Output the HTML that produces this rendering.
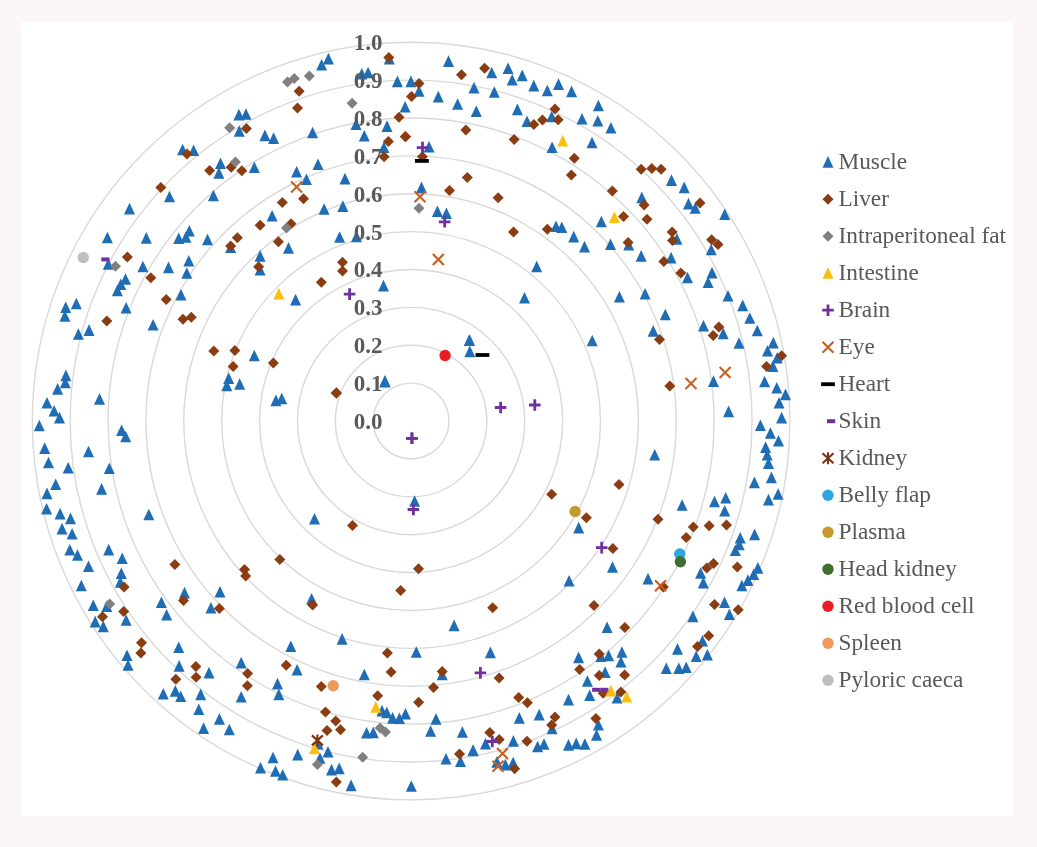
<!DOCTYPE html>
<html><head><meta charset="utf-8"><style>
html,body{margin:0;padding:0;background:#fdf6f6;}
svg{position:absolute;left:0;top:0;}
.ov{will-change:transform;}
</style></head><body>
<svg width="1037" height="847" viewBox="0 0 1037 847">
<rect x="0" y="0" width="1037" height="847" fill="#fdf6f6"/>
<rect x="21" y="22" width="992" height="794" fill="#ffffff"/>
<circle cx="411.1" cy="421.05" r="37.88" fill="none" stroke="#d9d9d9" stroke-width="1.4"/><circle cx="411.1" cy="421.05" r="75.76" fill="none" stroke="#d9d9d9" stroke-width="1.4"/><circle cx="411.1" cy="421.05" r="113.64" fill="none" stroke="#d9d9d9" stroke-width="1.4"/><circle cx="411.1" cy="421.05" r="151.52" fill="none" stroke="#d9d9d9" stroke-width="1.4"/><circle cx="411.1" cy="421.05" r="189.40" fill="none" stroke="#d9d9d9" stroke-width="1.4"/><circle cx="411.1" cy="421.05" r="227.28" fill="none" stroke="#d9d9d9" stroke-width="1.4"/><circle cx="411.1" cy="421.05" r="265.16" fill="none" stroke="#d9d9d9" stroke-width="1.4"/><circle cx="411.1" cy="421.05" r="303.04" fill="none" stroke="#d9d9d9" stroke-width="1.4"/><circle cx="411.1" cy="421.05" r="340.92" fill="none" stroke="#d9d9d9" stroke-width="1.4"/><circle cx="411.1" cy="421.05" r="378.80" fill="none" stroke="#d9d9d9" stroke-width="1.4"/>
<polygon points="182.6,143.7 188.1,155.3 177.1,155.3" fill="#1f6db4"/>
<polygon points="193.6,144.4 199.1,156.0 188.1,156.0" fill="#1f6db4"/>
<polygon points="328.4,52.8 333.9,64.4 322.9,64.4" fill="#1f6db4"/>
<polygon points="321.6,59.0 327.1,70.6 316.1,70.6" fill="#1f6db4"/>
<polygon points="361.8,67.9 367.3,79.5 356.3,79.5" fill="#1f6db4"/>
<polygon points="368.1,66.7 373.6,78.3 362.6,78.3" fill="#1f6db4"/>
<polygon points="397.4,75.6 402.9,87.2 391.9,87.2" fill="#1f6db4"/>
<polygon points="410.9,75.6 416.4,87.2 405.4,87.2" fill="#1f6db4"/>
<polygon points="405.1,101.0 410.6,112.6 399.6,112.6" fill="#1f6db4"/>
<polygon points="387.0,120.3 392.5,131.9 381.5,131.9" fill="#1f6db4"/>
<polygon points="356.0,118.4 361.5,130.0 350.5,130.0" fill="#1f6db4"/>
<polygon points="364.3,130.0 369.8,141.6 358.8,141.6" fill="#1f6db4"/>
<polygon points="383.9,141.5 389.4,153.1 378.4,153.1" fill="#1f6db4"/>
<polygon points="238.9,108.8 244.4,120.4 233.4,120.4" fill="#1f6db4"/>
<polygon points="246.0,108.2 251.5,119.8 240.5,119.8" fill="#1f6db4"/>
<polygon points="239.3,125.2 244.8,136.8 233.8,136.8" fill="#1f6db4"/>
<polygon points="264.9,129.6 270.4,141.2 259.4,141.2" fill="#1f6db4"/>
<polygon points="273.6,132.3 279.1,143.9 268.1,143.9" fill="#1f6db4"/>
<polygon points="312.6,126.7 318.1,138.3 307.1,138.3" fill="#1f6db4"/>
<polygon points="254.3,161.4 259.8,173.0 248.8,173.0" fill="#1f6db4"/>
<polygon points="296.6,166.0 302.1,177.6 291.1,177.6" fill="#1f6db4"/>
<polygon points="306.4,173.4 311.9,185.0 300.9,185.0" fill="#1f6db4"/>
<polygon points="318.0,158.5 323.5,170.1 312.5,170.1" fill="#1f6db4"/>
<polygon points="345.0,172.8 350.5,184.4 339.5,184.4" fill="#1f6db4"/>
<polygon points="389.3,52.8 394.8,64.4 383.8,64.4" fill="#1f6db4"/>
<polygon points="448.5,55.3 454.0,66.9 443.0,66.9" fill="#1f6db4"/>
<polygon points="491.7,66.7 497.2,78.3 486.2,78.3" fill="#1f6db4"/>
<polygon points="508.1,62.5 513.6,74.1 502.6,74.1" fill="#1f6db4"/>
<polygon points="522.2,69.6 527.7,81.2 516.7,81.2" fill="#1f6db4"/>
<polygon points="512.2,74.0 517.7,85.6 506.7,85.6" fill="#1f6db4"/>
<polygon points="474.0,81.8 479.5,93.4 468.5,93.4" fill="#1f6db4"/>
<polygon points="494.3,86.2 499.8,97.8 488.8,97.8" fill="#1f6db4"/>
<polygon points="438.3,90.8 443.8,102.4 432.8,102.4" fill="#1f6db4"/>
<polygon points="457.6,98.2 463.1,109.8 452.1,109.8" fill="#1f6db4"/>
<polygon points="476.3,105.3 481.8,116.9 470.8,116.9" fill="#1f6db4"/>
<polygon points="533.8,79.8 539.3,91.4 528.3,91.4" fill="#1f6db4"/>
<polygon points="547.3,84.7 552.8,96.3 541.8,96.3" fill="#1f6db4"/>
<polygon points="558.5,78.3 564.0,89.9 553.0,89.9" fill="#1f6db4"/>
<polygon points="571.6,85.6 577.1,97.2 566.1,97.2" fill="#1f6db4"/>
<polygon points="598.4,99.7 603.9,111.3 592.9,111.3" fill="#1f6db4"/>
<polygon points="517.4,103.6 522.9,115.2 511.9,115.2" fill="#1f6db4"/>
<polygon points="527.0,115.5 532.5,127.1 521.5,127.1" fill="#1f6db4"/>
<polygon points="551.7,110.7 557.2,122.3 546.2,122.3" fill="#1f6db4"/>
<polygon points="582.0,113.0 587.5,124.6 576.5,124.6" fill="#1f6db4"/>
<polygon points="597.8,114.9 603.3,126.5 592.3,126.5" fill="#1f6db4"/>
<polygon points="610.9,121.9 616.4,133.5 605.4,133.5" fill="#1f6db4"/>
<polygon points="552.1,141.5 557.6,153.1 546.6,153.1" fill="#1f6db4"/>
<polygon points="592.0,136.7 597.5,148.3 586.5,148.3" fill="#1f6db4"/>
<polygon points="419.0,85.2 424.5,96.8 413.5,96.8" fill="#1f6db4"/>
<polygon points="429.0,140.9 434.5,152.5 423.5,152.5" fill="#1f6db4"/>
<polygon points="671.5,174.3 677.0,185.9 666.0,185.9" fill="#1f6db4"/>
<polygon points="169.5,190.7 175.0,202.3 164.0,202.3" fill="#1f6db4"/>
<polygon points="213.4,189.7 218.9,201.3 207.9,201.3" fill="#1f6db4"/>
<polygon points="129.5,202.8 135.0,214.4 124.0,214.4" fill="#1f6db4"/>
<polygon points="107.4,231.7 112.9,243.3 101.9,243.3" fill="#1f6db4"/>
<polygon points="146.3,232.1 151.8,243.7 140.8,243.7" fill="#1f6db4"/>
<polygon points="178.7,232.5 184.2,244.1 173.2,244.1" fill="#1f6db4"/>
<polygon points="185.9,231.2 191.4,242.8 180.4,242.8" fill="#1f6db4"/>
<polygon points="189.3,225.0 194.8,236.6 183.8,236.6" fill="#1f6db4"/>
<polygon points="207.5,233.7 213.0,245.3 202.0,245.3" fill="#1f6db4"/>
<polygon points="108.3,258.2 113.8,269.8 102.8,269.8" fill="#1f6db4"/>
<polygon points="142.9,260.7 148.4,272.3 137.4,272.3" fill="#1f6db4"/>
<polygon points="168.5,261.6 174.0,273.2 163.0,273.2" fill="#1f6db4"/>
<polygon points="188.8,254.9 194.3,266.5 183.3,266.5" fill="#1f6db4"/>
<polygon points="186.8,267.2 192.3,278.8 181.3,278.8" fill="#1f6db4"/>
<polygon points="125.5,273.2 131.0,284.8 120.0,284.8" fill="#1f6db4"/>
<polygon points="120.7,278.4 126.2,290.0 115.2,290.0" fill="#1f6db4"/>
<polygon points="117.4,284.6 122.9,296.2 111.9,296.2" fill="#1f6db4"/>
<polygon points="181.0,289.0 186.5,300.6 175.5,300.6" fill="#1f6db4"/>
<polygon points="126.1,301.9 131.6,313.5 120.6,313.5" fill="#1f6db4"/>
<polygon points="76.3,297.7 81.8,309.3 70.8,309.3" fill="#1f6db4"/>
<polygon points="65.7,301.5 71.2,313.1 60.2,313.1" fill="#1f6db4"/>
<polygon points="64.9,310.2 70.4,321.8 59.4,321.8" fill="#1f6db4"/>
<polygon points="153.1,318.9 158.6,330.5 147.6,330.5" fill="#1f6db4"/>
<polygon points="78.4,328.2 83.9,339.8 72.9,339.8" fill="#1f6db4"/>
<polygon points="89.0,324.3 94.5,335.9 83.5,335.9" fill="#1f6db4"/>
<polygon points="324.1,203.2 329.6,214.8 318.6,214.8" fill="#1f6db4"/>
<polygon points="342.9,200.3 348.4,211.9 337.4,211.9" fill="#1f6db4"/>
<polygon points="272.1,209.9 277.6,221.5 266.6,221.5" fill="#1f6db4"/>
<polygon points="230.6,241.4 236.1,253.0 225.1,253.0" fill="#1f6db4"/>
<polygon points="288.5,242.1 294.0,253.7 283.0,253.7" fill="#1f6db4"/>
<polygon points="339.6,231.2 345.1,242.8 334.1,242.8" fill="#1f6db4"/>
<polygon points="356.5,230.6 362.0,242.2 351.0,242.2" fill="#1f6db4"/>
<polygon points="260.1,250.1 265.6,261.7 254.6,261.7" fill="#1f6db4"/>
<polygon points="260.1,263.9 265.6,275.5 254.6,275.5" fill="#1f6db4"/>
<polygon points="383.5,279.8 389.0,291.4 378.0,291.4" fill="#1f6db4"/>
<polygon points="295.6,293.8 301.1,305.4 290.1,305.4" fill="#1f6db4"/>
<polygon points="421.5,181.6 427.0,193.2 416.0,193.2" fill="#1f6db4"/>
<polygon points="437.4,205.5 442.9,217.1 431.9,217.1" fill="#1f6db4"/>
<polygon points="446.4,207.4 451.9,219.0 440.9,219.0" fill="#1f6db4"/>
<polygon points="556.0,220.5 561.5,232.1 550.5,232.1" fill="#1f6db4"/>
<polygon points="561.8,221.5 567.3,233.1 556.3,233.1" fill="#1f6db4"/>
<polygon points="573.7,230.8 579.2,242.4 568.2,242.4" fill="#1f6db4"/>
<polygon points="584.5,240.8 590.0,252.4 579.0,252.4" fill="#1f6db4"/>
<polygon points="601.3,215.7 606.8,227.3 595.8,227.3" fill="#1f6db4"/>
<polygon points="610.5,238.5 616.0,250.1 605.0,250.1" fill="#1f6db4"/>
<polygon points="536.7,260.7 542.2,272.3 531.2,272.3" fill="#1f6db4"/>
<polygon points="524.5,291.9 530.0,303.5 519.0,303.5" fill="#1f6db4"/>
<polygon points="469.6,334.3 475.1,345.9 464.1,345.9" fill="#1f6db4"/>
<polygon points="592.2,334.7 597.7,346.3 586.7,346.3" fill="#1f6db4"/>
<polygon points="684.2,181.6 689.7,193.2 678.7,193.2" fill="#1f6db4"/>
<polygon points="641.8,191.6 647.3,203.2 636.3,203.2" fill="#1f6db4"/>
<polygon points="688.5,197.8 694.0,209.4 683.0,209.4" fill="#1f6db4"/>
<polygon points="695.2,202.2 700.7,213.8 689.7,213.8" fill="#1f6db4"/>
<polygon points="724.7,208.4 730.2,220.0 719.2,220.0" fill="#1f6db4"/>
<polygon points="676.9,233.1 682.4,244.7 671.4,244.7" fill="#1f6db4"/>
<polygon points="628.7,238.9 634.2,250.5 623.2,250.5" fill="#1f6db4"/>
<polygon points="711.2,243.7 716.7,255.3 705.7,255.3" fill="#1f6db4"/>
<polygon points="641.2,250.1 646.7,261.7 635.7,261.7" fill="#1f6db4"/>
<polygon points="671.1,251.8 676.6,263.4 665.6,263.4" fill="#1f6db4"/>
<polygon points="687.5,271.7 693.0,283.3 682.0,283.3" fill="#1f6db4"/>
<polygon points="712.0,266.8 717.5,278.4 706.5,278.4" fill="#1f6db4"/>
<polygon points="708.1,276.5 713.6,288.1 702.6,288.1" fill="#1f6db4"/>
<polygon points="645.1,288.0 650.6,299.6 639.6,299.6" fill="#1f6db4"/>
<polygon points="619.4,290.9 624.9,302.5 613.9,302.5" fill="#1f6db4"/>
<polygon points="728.0,290.0 733.5,301.6 722.5,301.6" fill="#1f6db4"/>
<polygon points="742.7,299.6 748.2,311.2 737.2,311.2" fill="#1f6db4"/>
<polygon points="749.8,312.2 755.3,323.8 744.3,323.8" fill="#1f6db4"/>
<polygon points="665.3,308.7 670.8,320.3 659.8,320.3" fill="#1f6db4"/>
<polygon points="653.2,325.1 658.7,336.7 647.7,336.7" fill="#1f6db4"/>
<polygon points="703.5,319.9 709.0,331.5 698.0,331.5" fill="#1f6db4"/>
<polygon points="723.2,327.6 728.7,339.2 717.7,339.2" fill="#1f6db4"/>
<polygon points="757.3,324.7 762.8,336.3 751.8,336.3" fill="#1f6db4"/>
<polygon points="739.0,337.2 744.5,348.8 733.5,348.8" fill="#1f6db4"/>
<polygon points="773.3,336.8 778.8,348.4 767.8,348.4" fill="#1f6db4"/>
<polygon points="65.9,369.6 71.4,381.2 60.4,381.2" fill="#1f6db4"/>
<polygon points="65.3,376.7 70.8,388.3 59.8,388.3" fill="#1f6db4"/>
<polygon points="57.6,383.1 63.1,394.7 52.1,394.7" fill="#1f6db4"/>
<polygon points="99.5,393.1 105.0,404.7 94.0,404.7" fill="#1f6db4"/>
<polygon points="47.0,396.9 52.5,408.5 41.5,408.5" fill="#1f6db4"/>
<polygon points="54.1,405.0 59.6,416.6 48.6,416.6" fill="#1f6db4"/>
<polygon points="59.5,411.8 65.0,423.4 54.0,423.4" fill="#1f6db4"/>
<polygon points="39.3,419.7 44.8,431.3 33.8,431.3" fill="#1f6db4"/>
<polygon points="121.6,424.5 127.1,436.1 116.1,436.1" fill="#1f6db4"/>
<polygon points="125.7,430.7 131.2,442.3 120.2,442.3" fill="#1f6db4"/>
<polygon points="44.7,442.3 50.2,453.9 39.2,453.9" fill="#1f6db4"/>
<polygon points="88.5,445.7 94.0,457.3 83.0,457.3" fill="#1f6db4"/>
<polygon points="48.5,456.7 54.0,468.3 43.0,468.3" fill="#1f6db4"/>
<polygon points="68.2,461.9 73.7,473.5 62.7,473.5" fill="#1f6db4"/>
<polygon points="109.3,462.5 114.8,474.1 103.8,474.1" fill="#1f6db4"/>
<polygon points="55.7,478.5 61.2,490.1 50.2,490.1" fill="#1f6db4"/>
<polygon points="47.0,487.6 52.5,499.2 41.5,499.2" fill="#1f6db4"/>
<polygon points="101.6,483.1 107.1,494.7 96.1,494.7" fill="#1f6db4"/>
<polygon points="254.3,349.7 259.8,361.3 248.8,361.3" fill="#1f6db4"/>
<polygon points="228.7,372.4 234.2,384.0 223.2,384.0" fill="#1f6db4"/>
<polygon points="226.8,379.6 232.3,391.2 221.3,391.2" fill="#1f6db4"/>
<polygon points="239.7,378.2 245.2,389.8 234.2,389.8" fill="#1f6db4"/>
<polygon points="275.9,394.6 281.4,406.2 270.4,406.2" fill="#1f6db4"/>
<polygon points="281.7,392.7 287.2,404.3 276.2,404.3" fill="#1f6db4"/>
<polygon points="384.9,375.1 390.4,386.7 379.4,386.7" fill="#1f6db4"/>
<polygon points="469.2,334.4 474.7,346.0 463.7,346.0" fill="#1f6db4"/>
<polygon points="469.8,345.6 475.3,357.2 464.3,357.2" fill="#1f6db4"/>
<polygon points="385.0,375.9 390.5,387.5 379.5,387.5" fill="#1f6db4"/>
<polygon points="767.5,344.9 773.0,356.5 762.0,356.5" fill="#1f6db4"/>
<polygon points="777.2,352.0 782.7,363.6 771.7,363.6" fill="#1f6db4"/>
<polygon points="772.9,360.3 778.4,371.9 767.4,371.9" fill="#1f6db4"/>
<polygon points="713.5,375.3 719.0,386.9 708.0,386.9" fill="#1f6db4"/>
<polygon points="764.6,375.7 770.1,387.3 759.1,387.3" fill="#1f6db4"/>
<polygon points="776.8,381.9 782.3,393.5 771.3,393.5" fill="#1f6db4"/>
<polygon points="785.5,388.6 791.0,400.2 780.0,400.2" fill="#1f6db4"/>
<polygon points="779.1,396.9 784.6,408.5 773.6,408.5" fill="#1f6db4"/>
<polygon points="728.6,405.6 734.1,417.2 723.1,417.2" fill="#1f6db4"/>
<polygon points="781.6,411.8 787.1,423.4 776.1,423.4" fill="#1f6db4"/>
<polygon points="760.4,419.5 765.9,431.1 754.9,431.1" fill="#1f6db4"/>
<polygon points="770.4,427.2 775.9,438.8 764.9,438.8" fill="#1f6db4"/>
<polygon points="778.5,434.9 784.0,446.5 773.0,446.5" fill="#1f6db4"/>
<polygon points="765.6,441.3 771.1,452.9 760.1,452.9" fill="#1f6db4"/>
<polygon points="767.2,449.0 772.7,460.6 761.7,460.6" fill="#1f6db4"/>
<polygon points="768.5,457.3 774.0,468.9 763.0,468.9" fill="#1f6db4"/>
<polygon points="654.7,449.0 660.2,460.6 649.2,460.6" fill="#1f6db4"/>
<polygon points="771.4,471.6 776.9,483.2 765.9,483.2" fill="#1f6db4"/>
<polygon points="754.4,476.6 759.9,488.2 748.9,488.2" fill="#1f6db4"/>
<polygon points="778.1,488.2 783.6,499.8 772.6,499.8" fill="#1f6db4"/>
<polygon points="768.5,493.8 774.0,505.4 763.0,505.4" fill="#1f6db4"/>
<polygon points="714.5,495.7 720.0,507.3 709.0,507.3" fill="#1f6db4"/>
<polygon points="725.7,492.0 731.2,503.6 720.2,503.6" fill="#1f6db4"/>
<polygon points="682.1,499.2 687.6,510.8 676.6,510.8" fill="#1f6db4"/>
<polygon points="46.6,502.9 52.1,514.5 41.1,514.5" fill="#1f6db4"/>
<polygon points="60.1,507.8 65.6,519.4 54.6,519.4" fill="#1f6db4"/>
<polygon points="70.5,512.6 76.0,524.2 65.0,524.2" fill="#1f6db4"/>
<polygon points="62.0,522.8 67.5,534.4 56.5,534.4" fill="#1f6db4"/>
<polygon points="72.1,528.0 77.6,539.6 66.6,539.6" fill="#1f6db4"/>
<polygon points="148.8,508.7 154.3,520.3 143.3,520.3" fill="#1f6db4"/>
<polygon points="69.8,544.0 75.3,555.6 64.3,555.6" fill="#1f6db4"/>
<polygon points="77.5,549.2 83.0,560.8 72.0,560.8" fill="#1f6db4"/>
<polygon points="88.5,560.4 94.0,572.0 83.0,572.0" fill="#1f6db4"/>
<polygon points="108.7,543.8 114.2,555.4 103.2,555.4" fill="#1f6db4"/>
<polygon points="122.2,552.5 127.7,564.1 116.7,564.1" fill="#1f6db4"/>
<polygon points="121.3,567.5 126.8,579.1 115.8,579.1" fill="#1f6db4"/>
<polygon points="120.3,576.2 125.8,587.8 114.8,587.8" fill="#1f6db4"/>
<polygon points="81.3,579.7 86.8,591.3 75.8,591.3" fill="#1f6db4"/>
<polygon points="93.3,599.4 98.8,611.0 87.8,611.0" fill="#1f6db4"/>
<polygon points="106.8,600.3 112.3,611.9 101.3,611.9" fill="#1f6db4"/>
<polygon points="95.2,615.8 100.7,627.4 89.7,627.4" fill="#1f6db4"/>
<polygon points="103.3,620.6 108.8,632.2 97.8,632.2" fill="#1f6db4"/>
<polygon points="126.1,614.2 131.6,625.8 120.6,625.8" fill="#1f6db4"/>
<polygon points="184.5,586.8 190.0,598.4 179.0,598.4" fill="#1f6db4"/>
<polygon points="161.4,596.5 166.9,608.1 155.9,608.1" fill="#1f6db4"/>
<polygon points="166.6,609.0 172.1,620.6 161.1,620.6" fill="#1f6db4"/>
<polygon points="210.9,601.9 216.4,613.5 205.4,613.5" fill="#1f6db4"/>
<polygon points="127.0,649.5 132.5,661.1 121.5,661.1" fill="#1f6db4"/>
<polygon points="128.0,659.2 133.5,670.8 122.5,670.8" fill="#1f6db4"/>
<polygon points="178.7,641.4 184.2,653.0 173.2,653.0" fill="#1f6db4"/>
<polygon points="179.1,660.1 184.6,671.7 173.6,671.7" fill="#1f6db4"/>
<polygon points="314.5,513.0 320.0,524.6 309.0,524.6" fill="#1f6db4"/>
<polygon points="220.0,585.9 225.5,597.5 214.5,597.5" fill="#1f6db4"/>
<polygon points="311.6,593.0 317.1,604.6 306.1,604.6" fill="#1f6db4"/>
<polygon points="342.1,633.1 347.6,644.7 336.6,644.7" fill="#1f6db4"/>
<polygon points="290.8,640.4 296.3,652.0 285.3,652.0" fill="#1f6db4"/>
<polygon points="416.3,646.2 421.8,657.8 410.8,657.8" fill="#1f6db4"/>
<polygon points="241.2,656.8 246.7,668.4 235.7,668.4" fill="#1f6db4"/>
<polygon points="578.7,521.8 584.2,533.4 573.2,533.4" fill="#1f6db4"/>
<polygon points="612.5,561.2 618.0,572.8 607.0,572.8" fill="#1f6db4"/>
<polygon points="569.1,574.9 574.6,586.5 563.6,586.5" fill="#1f6db4"/>
<polygon points="454.1,619.6 459.6,631.2 448.6,631.2" fill="#1f6db4"/>
<polygon points="607.1,621.5 612.6,633.1 601.6,633.1" fill="#1f6db4"/>
<polygon points="490.4,646.6 495.9,658.2 484.9,658.2" fill="#1f6db4"/>
<polygon points="724.7,504.9 730.2,516.5 719.2,516.5" fill="#1f6db4"/>
<polygon points="740.2,531.9 745.7,543.5 734.7,543.5" fill="#1f6db4"/>
<polygon points="739.2,538.6 744.7,550.2 733.7,550.2" fill="#1f6db4"/>
<polygon points="735.3,544.4 740.8,556.0 729.8,556.0" fill="#1f6db4"/>
<polygon points="754.6,528.6 760.1,540.2 749.1,540.2" fill="#1f6db4"/>
<polygon points="700.6,567.2 706.1,578.8 695.1,578.8" fill="#1f6db4"/>
<polygon points="703.3,576.8 708.8,588.4 697.8,588.4" fill="#1f6db4"/>
<polygon points="757.9,562.1 763.4,573.7 752.4,573.7" fill="#1f6db4"/>
<polygon points="753.7,568.5 759.2,580.1 748.2,580.1" fill="#1f6db4"/>
<polygon points="747.9,574.3 753.4,585.9 742.4,585.9" fill="#1f6db4"/>
<polygon points="741.9,579.7 747.4,591.3 736.4,591.3" fill="#1f6db4"/>
<polygon points="648.0,572.8 653.5,584.4 642.5,584.4" fill="#1f6db4"/>
<polygon points="724.5,596.5 730.0,608.1 719.0,608.1" fill="#1f6db4"/>
<polygon points="729.4,608.4 734.9,620.0 723.9,620.0" fill="#1f6db4"/>
<polygon points="692.9,610.6 698.4,622.2 687.4,622.2" fill="#1f6db4"/>
<polygon points="702.5,635.0 708.0,646.6 697.0,646.6" fill="#1f6db4"/>
<polygon points="677.5,643.1 683.0,654.7 672.0,654.7" fill="#1f6db4"/>
<polygon points="696.2,650.5 701.7,662.1 690.7,662.1" fill="#1f6db4"/>
<polygon points="707.4,648.9 712.9,660.5 701.9,660.5" fill="#1f6db4"/>
<polygon points="209.0,666.8 214.5,678.4 203.5,678.4" fill="#1f6db4"/>
<polygon points="163.3,688.0 168.8,699.6 157.8,699.6" fill="#1f6db4"/>
<polygon points="175.3,685.1 180.8,696.7 169.8,696.7" fill="#1f6db4"/>
<polygon points="180.7,690.5 186.2,702.1 175.2,702.1" fill="#1f6db4"/>
<polygon points="200.7,688.6 206.2,700.2 195.2,700.2" fill="#1f6db4"/>
<polygon points="198.8,703.4 204.3,715.0 193.3,715.0" fill="#1f6db4"/>
<polygon points="203.6,722.3 209.1,733.9 198.1,733.9" fill="#1f6db4"/>
<polygon points="297.1,663.9 302.6,675.5 291.6,675.5" fill="#1f6db4"/>
<polygon points="364.3,668.7 369.8,680.3 358.8,680.3" fill="#1f6db4"/>
<polygon points="277.5,677.8 283.0,689.4 272.0,689.4" fill="#1f6db4"/>
<polygon points="278.8,688.6 284.3,700.2 273.3,700.2" fill="#1f6db4"/>
<polygon points="241.2,690.9 246.7,702.5 235.7,702.5" fill="#1f6db4"/>
<polygon points="382.0,704.8 387.5,716.4 376.5,716.4" fill="#1f6db4"/>
<polygon points="386.8,706.7 392.3,718.3 381.3,718.3" fill="#1f6db4"/>
<polygon points="392.6,712.1 398.1,723.7 387.1,723.7" fill="#1f6db4"/>
<polygon points="399.4,712.5 404.9,724.1 393.9,724.1" fill="#1f6db4"/>
<polygon points="405.5,707.9 411.0,719.5 400.0,719.5" fill="#1f6db4"/>
<polygon points="219.4,713.1 224.9,724.7 213.9,724.7" fill="#1f6db4"/>
<polygon points="229.3,723.7 234.8,735.3 223.8,735.3" fill="#1f6db4"/>
<polygon points="366.6,727.0 372.1,738.6 361.1,738.6" fill="#1f6db4"/>
<polygon points="373.3,726.6 378.8,738.2 367.8,738.2" fill="#1f6db4"/>
<polygon points="328.0,745.9 333.5,757.5 322.5,757.5" fill="#1f6db4"/>
<polygon points="297.7,748.8 303.2,760.4 292.2,760.4" fill="#1f6db4"/>
<polygon points="273.0,751.7 278.5,763.3 267.5,763.3" fill="#1f6db4"/>
<polygon points="260.5,761.9 266.0,773.5 255.0,773.5" fill="#1f6db4"/>
<polygon points="275.5,765.2 281.0,776.8 270.0,776.8" fill="#1f6db4"/>
<polygon points="282.7,769.0 288.2,780.6 277.2,780.6" fill="#1f6db4"/>
<polygon points="319.9,752.2 325.4,763.8 314.4,763.8" fill="#1f6db4"/>
<polygon points="331.5,763.8 337.0,775.4 326.0,775.4" fill="#1f6db4"/>
<polygon points="339.2,762.6 344.7,774.2 333.7,774.2" fill="#1f6db4"/>
<polygon points="351.1,779.6 356.6,791.2 345.6,791.2" fill="#1f6db4"/>
<polygon points="411.3,780.2 416.8,791.8 405.8,791.8" fill="#1f6db4"/>
<polygon points="442.2,668.7 447.7,680.3 436.7,680.3" fill="#1f6db4"/>
<polygon points="568.5,693.8 574.0,705.4 563.0,705.4" fill="#1f6db4"/>
<polygon points="436.0,713.1 441.5,724.7 430.5,724.7" fill="#1f6db4"/>
<polygon points="430.6,725.2 436.1,736.8 425.1,736.8" fill="#1f6db4"/>
<polygon points="462.4,726.2 467.9,737.8 456.9,737.8" fill="#1f6db4"/>
<polygon points="519.3,712.1 524.8,723.7 513.8,723.7" fill="#1f6db4"/>
<polygon points="539.2,708.8 544.7,720.4 533.7,720.4" fill="#1f6db4"/>
<polygon points="552.1,722.7 557.6,734.3 546.6,734.3" fill="#1f6db4"/>
<polygon points="598.4,718.9 603.9,730.5 592.9,730.5" fill="#1f6db4"/>
<polygon points="596.5,729.1 602.0,740.7 591.0,740.7" fill="#1f6db4"/>
<polygon points="537.6,740.7 543.1,752.3 532.1,752.3" fill="#1f6db4"/>
<polygon points="544.0,738.2 549.5,749.8 538.5,749.8" fill="#1f6db4"/>
<polygon points="568.5,739.1 574.0,750.7 563.0,750.7" fill="#1f6db4"/>
<polygon points="576.2,737.6 581.7,749.2 570.7,749.2" fill="#1f6db4"/>
<polygon points="584.9,738.2 590.4,749.8 579.4,749.8" fill="#1f6db4"/>
<polygon points="473.0,744.5 478.5,756.1 467.5,756.1" fill="#1f6db4"/>
<polygon points="460.5,755.5 466.0,767.1 455.0,767.1" fill="#1f6db4"/>
<polygon points="446.0,753.0 451.5,764.6 440.5,764.6" fill="#1f6db4"/>
<polygon points="414.6,495.2 420.1,506.8 409.1,506.8" fill="#1f6db4"/>
<polygon points="578.6,651.6 584.1,663.2 573.1,663.2" fill="#1f6db4"/>
<polygon points="600.9,650.5 606.4,662.1 595.4,662.1" fill="#1f6db4"/>
<polygon points="608.6,649.7 614.1,661.3 603.1,661.3" fill="#1f6db4"/>
<polygon points="621.9,646.2 627.4,657.8 616.4,657.8" fill="#1f6db4"/>
<polygon points="620.9,655.9 626.4,667.5 615.4,667.5" fill="#1f6db4"/>
<polygon points="605.1,666.3 610.6,677.9 599.6,677.9" fill="#1f6db4"/>
<polygon points="587.4,675.2 592.9,686.8 581.9,686.8" fill="#1f6db4"/>
<polygon points="589.7,689.5 595.2,701.1 584.2,701.1" fill="#1f6db4"/>
<polygon points="617.1,691.8 622.6,703.4 611.6,703.4" fill="#1f6db4"/>
<polygon points="485.5,737.8 491.0,749.4 480.0,749.4" fill="#1f6db4"/>
<polygon points="473.2,744.6 478.7,756.2 467.7,756.2" fill="#1f6db4"/>
<polygon points="513.4,735.1 518.9,746.7 507.9,746.7" fill="#1f6db4"/>
<polygon points="496.9,756.1 502.4,767.7 491.4,767.7" fill="#1f6db4"/>
<polygon points="505.4,758.8 510.9,770.4 499.9,770.4" fill="#1f6db4"/>
<polygon points="513.1,756.7 518.6,768.3 507.6,768.3" fill="#1f6db4"/>
<polygon points="666.3,662.4 671.8,674.0 660.8,674.0" fill="#1f6db4"/>
<polygon points="678.8,662.4 684.3,674.0 673.3,674.0" fill="#1f6db4"/>
<polygon points="686.2,661.4 691.7,673.0 680.7,673.0" fill="#1f6db4"/>
<polygon points="220.5,157.5 226.0,169.1 215.0,169.1" fill="#1f6db4"/>
<polygon points="218.9,167.2 224.4,178.8 213.4,178.8" fill="#1f6db4"/>
<polygon points="318.0,737.9 323.5,749.5 312.5,749.5" fill="#1f6db4"/>
<polygon points="187.0,148.5 192.5,154.0 187.0,159.5 181.5,154.0" fill="#8a3c12"/>
<polygon points="209.6,164.9 215.1,170.4 209.6,175.9 204.1,170.4" fill="#8a3c12"/>
<polygon points="411.5,91.0 417.0,96.5 411.5,102.0 406.0,96.5" fill="#8a3c12"/>
<polygon points="399.0,111.7 404.5,117.2 399.0,122.7 393.5,117.2" fill="#8a3c12"/>
<polygon points="405.5,131.2 411.0,136.7 405.5,142.2 400.0,136.7" fill="#8a3c12"/>
<polygon points="388.4,136.0 393.9,141.5 388.4,147.0 382.9,141.5" fill="#8a3c12"/>
<polygon points="384.1,151.2 389.6,156.7 384.1,162.2 378.6,156.7" fill="#8a3c12"/>
<polygon points="246.4,122.9 251.9,128.4 246.4,133.9 240.9,128.4" fill="#8a3c12"/>
<polygon points="231.2,161.8 236.7,167.3 231.2,172.8 225.7,167.3" fill="#8a3c12"/>
<polygon points="241.8,165.3 247.3,170.8 241.8,176.3 236.3,170.8" fill="#8a3c12"/>
<polygon points="299.1,85.8 304.6,91.3 299.1,96.8 293.6,91.3" fill="#8a3c12"/>
<polygon points="297.5,102.6 303.0,108.1 297.5,113.6 292.0,108.1" fill="#8a3c12"/>
<polygon points="388.8,52.1 394.3,57.6 388.8,63.1 383.3,57.6" fill="#8a3c12"/>
<polygon points="461.5,69.2 467.0,74.7 461.5,80.2 456.0,74.7" fill="#8a3c12"/>
<polygon points="484.6,62.7 490.1,68.2 484.6,73.7 479.1,68.2" fill="#8a3c12"/>
<polygon points="419.0,78.1 424.5,83.6 419.0,89.1 413.5,83.6" fill="#8a3c12"/>
<polygon points="555.0,103.6 560.5,109.1 555.0,114.6 549.5,109.1" fill="#8a3c12"/>
<polygon points="542.5,114.6 548.0,120.1 542.5,125.6 537.0,120.1" fill="#8a3c12"/>
<polygon points="533.8,119.0 539.3,124.5 533.8,130.0 528.3,124.5" fill="#8a3c12"/>
<polygon points="558.1,114.2 563.6,119.7 558.1,125.2 552.6,119.7" fill="#8a3c12"/>
<polygon points="465.9,124.4 471.4,129.9 465.9,135.4 460.4,129.9" fill="#8a3c12"/>
<polygon points="514.1,133.9 519.6,139.4 514.1,144.9 508.6,139.4" fill="#8a3c12"/>
<polygon points="574.3,152.8 579.8,158.3 574.3,163.8 568.8,158.3" fill="#8a3c12"/>
<polygon points="571.4,169.5 576.9,175.0 571.4,180.5 565.9,175.0" fill="#8a3c12"/>
<polygon points="467.3,172.0 472.8,177.5 467.3,183.0 461.8,177.5" fill="#8a3c12"/>
<polygon points="422.4,151.3 427.9,156.8 422.4,162.3 416.9,156.8" fill="#8a3c12"/>
<polygon points="405.4,131.1 410.9,136.6 405.4,142.1 399.9,136.6" fill="#8a3c12"/>
<polygon points="641.2,163.7 646.7,169.2 641.2,174.7 635.7,169.2" fill="#8a3c12"/>
<polygon points="651.8,163.0 657.3,168.5 651.8,174.0 646.3,168.5" fill="#8a3c12"/>
<polygon points="661.1,163.7 666.6,169.2 661.1,174.7 655.6,169.2" fill="#8a3c12"/>
<polygon points="160.8,182.0 166.3,187.5 160.8,193.0 155.3,187.5" fill="#8a3c12"/>
<polygon points="127.4,251.6 132.9,257.1 127.4,262.6 121.9,257.1" fill="#8a3c12"/>
<polygon points="150.8,272.3 156.3,277.8 150.8,283.3 145.3,277.8" fill="#8a3c12"/>
<polygon points="166.2,293.9 171.7,299.4 166.2,304.9 160.7,299.4" fill="#8a3c12"/>
<polygon points="106.8,315.6 112.3,321.1 106.8,326.6 101.3,321.1" fill="#8a3c12"/>
<polygon points="183.0,313.7 188.5,319.2 183.0,324.7 177.5,319.2" fill="#8a3c12"/>
<polygon points="191.3,311.8 196.8,317.3 191.3,322.8 185.8,317.3" fill="#8a3c12"/>
<polygon points="303.5,193.2 309.0,198.7 303.5,204.2 298.0,198.7" fill="#8a3c12"/>
<polygon points="282.3,197.0 287.8,202.5 282.3,208.0 276.8,202.5" fill="#8a3c12"/>
<polygon points="260.1,219.8 265.6,225.3 260.1,230.8 254.6,225.3" fill="#8a3c12"/>
<polygon points="291.0,218.3 296.5,223.8 291.0,229.3 285.5,223.8" fill="#8a3c12"/>
<polygon points="237.4,232.3 242.9,237.8 237.4,243.3 231.9,237.8" fill="#8a3c12"/>
<polygon points="230.6,240.4 236.1,245.9 230.6,251.4 225.1,245.9" fill="#8a3c12"/>
<polygon points="278.4,236.2 283.9,241.7 278.4,247.2 272.9,241.7" fill="#8a3c12"/>
<polygon points="258.6,261.3 264.1,266.8 258.6,272.3 253.1,266.8" fill="#8a3c12"/>
<polygon points="342.5,256.8 348.0,262.3 342.5,267.8 337.0,262.3" fill="#8a3c12"/>
<polygon points="342.5,265.5 348.0,271.0 342.5,276.5 337.0,271.0" fill="#8a3c12"/>
<polygon points="321.3,276.7 326.8,282.2 321.3,287.7 315.8,282.2" fill="#8a3c12"/>
<polygon points="449.5,185.1 455.0,190.6 449.5,196.1 444.0,190.6" fill="#8a3c12"/>
<polygon points="612.3,185.5 617.8,191.0 612.3,196.5 606.8,191.0" fill="#8a3c12"/>
<polygon points="498.1,192.2 503.6,197.7 498.1,203.2 492.6,197.7" fill="#8a3c12"/>
<polygon points="513.5,226.5 519.0,232.0 513.5,237.5 508.0,232.0" fill="#8a3c12"/>
<polygon points="547.3,223.7 552.8,229.2 547.3,234.7 541.8,229.2" fill="#8a3c12"/>
<polygon points="644.1,199.5 649.6,205.0 644.1,210.5 638.6,205.0" fill="#8a3c12"/>
<polygon points="623.5,210.9 629.0,216.4 623.5,221.9 618.0,216.4" fill="#8a3c12"/>
<polygon points="647.0,213.8 652.5,219.3 647.0,224.8 641.5,219.3" fill="#8a3c12"/>
<polygon points="700.0,197.6 705.5,203.1 700.0,208.6 694.5,203.1" fill="#8a3c12"/>
<polygon points="672.1,226.5 677.6,232.0 672.1,237.5 666.6,232.0" fill="#8a3c12"/>
<polygon points="672.5,235.0 678.0,240.5 672.5,246.0 667.0,240.5" fill="#8a3c12"/>
<polygon points="628.1,237.0 633.6,242.5 628.1,248.0 622.6,242.5" fill="#8a3c12"/>
<polygon points="711.6,234.3 717.1,239.8 711.6,245.3 706.1,239.8" fill="#8a3c12"/>
<polygon points="718.0,239.1 723.5,244.6 718.0,250.1 712.5,244.6" fill="#8a3c12"/>
<polygon points="663.8,255.9 669.3,261.4 663.8,266.9 658.3,261.4" fill="#8a3c12"/>
<polygon points="680.8,267.4 686.3,272.9 680.8,278.4 675.3,272.9" fill="#8a3c12"/>
<polygon points="659.5,334.0 665.0,339.5 659.5,345.0 654.0,339.5" fill="#8a3c12"/>
<polygon points="718.9,321.4 724.4,326.9 718.9,332.4 713.4,326.9" fill="#8a3c12"/>
<polygon points="713.2,330.1 718.7,335.6 713.2,341.1 707.7,335.6" fill="#8a3c12"/>
<polygon points="213.8,345.5 219.3,351.0 213.8,356.5 208.3,351.0" fill="#8a3c12"/>
<polygon points="234.9,345.1 240.4,350.6 234.9,356.1 229.4,350.6" fill="#8a3c12"/>
<polygon points="233.1,360.9 238.6,366.4 233.1,371.9 227.6,366.4" fill="#8a3c12"/>
<polygon points="273.4,357.4 278.9,362.9 273.4,368.4 267.9,362.9" fill="#8a3c12"/>
<polygon points="336.3,387.3 341.8,392.8 336.3,398.3 330.8,392.8" fill="#8a3c12"/>
<polygon points="336.4,387.7 341.9,393.2 336.4,398.7 330.9,393.2" fill="#8a3c12"/>
<polygon points="551.7,488.8 557.2,494.3 551.7,499.8 546.2,494.3" fill="#8a3c12"/>
<polygon points="781.6,350.3 787.1,355.8 781.6,361.3 776.1,355.8" fill="#8a3c12"/>
<polygon points="766.6,360.9 772.1,366.4 766.6,371.9 761.1,366.4" fill="#8a3c12"/>
<polygon points="669.8,380.6 675.3,386.1 669.8,391.6 664.3,386.1" fill="#8a3c12"/>
<polygon points="619.0,478.9 624.5,484.4 619.0,489.9 613.5,484.4" fill="#8a3c12"/>
<polygon points="124.1,581.6 129.6,587.1 124.1,592.6 118.6,587.1" fill="#8a3c12"/>
<polygon points="102.5,611.2 108.0,616.7 102.5,622.2 97.0,616.7" fill="#8a3c12"/>
<polygon points="123.6,606.1 129.1,611.6 123.6,617.1 118.1,611.6" fill="#8a3c12"/>
<polygon points="174.9,558.9 180.4,564.4 174.9,569.9 169.4,564.4" fill="#8a3c12"/>
<polygon points="183.5,595.1 189.0,600.6 183.5,606.1 178.0,600.6" fill="#8a3c12"/>
<polygon points="141.5,637.2 147.0,642.7 141.5,648.2 136.0,642.7" fill="#8a3c12"/>
<polygon points="140.9,647.6 146.4,653.1 140.9,658.6 135.4,653.1" fill="#8a3c12"/>
<polygon points="195.9,661.1 201.4,666.6 195.9,672.1 190.4,666.6" fill="#8a3c12"/>
<polygon points="352.5,519.9 358.0,525.4 352.5,530.9 347.0,525.4" fill="#8a3c12"/>
<polygon points="279.8,554.1 285.3,559.6 279.8,565.1 274.3,559.6" fill="#8a3c12"/>
<polygon points="244.5,563.9 250.0,569.4 244.5,574.9 239.0,569.4" fill="#8a3c12"/>
<polygon points="245.7,570.5 251.2,576.0 245.7,581.5 240.2,576.0" fill="#8a3c12"/>
<polygon points="400.7,584.9 406.2,590.4 400.7,595.9 395.2,590.4" fill="#8a3c12"/>
<polygon points="219.4,602.9 224.9,608.4 219.4,613.9 213.9,608.4" fill="#8a3c12"/>
<polygon points="312.6,599.6 318.1,605.1 312.6,610.6 307.1,605.1" fill="#8a3c12"/>
<polygon points="387.4,647.6 392.9,653.1 387.4,658.6 381.9,653.1" fill="#8a3c12"/>
<polygon points="286.2,659.8 291.7,665.3 286.2,670.8 280.7,665.3" fill="#8a3c12"/>
<polygon points="586.4,512.2 591.9,517.7 586.4,523.2 580.9,517.7" fill="#8a3c12"/>
<polygon points="612.9,543.1 618.4,548.6 612.9,554.1 607.4,548.6" fill="#8a3c12"/>
<polygon points="418.5,563.3 424.0,568.8 418.5,574.3 413.0,568.8" fill="#8a3c12"/>
<polygon points="492.7,602.3 498.2,607.8 492.7,613.3 487.2,607.8" fill="#8a3c12"/>
<polygon points="594.0,600.0 599.5,605.5 594.0,611.0 588.5,605.5" fill="#8a3c12"/>
<polygon points="658.0,513.8 663.5,519.3 658.0,524.8 652.5,519.3" fill="#8a3c12"/>
<polygon points="693.3,521.5 698.8,527.0 693.3,532.5 687.8,527.0" fill="#8a3c12"/>
<polygon points="709.1,520.3 714.6,525.8 709.1,531.3 703.6,525.8" fill="#8a3c12"/>
<polygon points="726.5,519.4 732.0,524.9 726.5,530.4 721.0,524.9" fill="#8a3c12"/>
<polygon points="686.2,531.9 691.7,537.4 686.2,542.9 680.7,537.4" fill="#8a3c12"/>
<polygon points="713.5,558.1 719.0,563.6 713.5,569.1 708.0,563.6" fill="#8a3c12"/>
<polygon points="706.8,562.4 712.3,567.9 706.8,573.4 701.3,567.9" fill="#8a3c12"/>
<polygon points="737.3,561.4 742.8,566.9 737.3,572.4 731.8,566.9" fill="#8a3c12"/>
<polygon points="663.4,581.6 668.9,587.1 663.4,592.6 657.9,587.1" fill="#8a3c12"/>
<polygon points="714.5,599.0 720.0,604.5 714.5,610.0 709.0,604.5" fill="#8a3c12"/>
<polygon points="738.2,604.2 743.7,609.7 738.2,615.2 732.7,609.7" fill="#8a3c12"/>
<polygon points="624.8,622.1 630.3,627.6 624.8,633.1 619.3,627.6" fill="#8a3c12"/>
<polygon points="708.7,630.2 714.2,635.7 708.7,641.2 703.2,635.7" fill="#8a3c12"/>
<polygon points="697.5,641.0 703.0,646.5 697.5,652.0 692.0,646.5" fill="#8a3c12"/>
<polygon points="175.8,673.8 181.3,679.3 175.8,684.8 170.3,679.3" fill="#8a3c12"/>
<polygon points="196.1,671.8 201.6,677.3 196.1,682.8 190.6,677.3" fill="#8a3c12"/>
<polygon points="247.6,668.0 253.1,673.5 247.6,679.0 242.1,673.5" fill="#8a3c12"/>
<polygon points="391.1,666.4 396.6,671.9 391.1,677.4 385.6,671.9" fill="#8a3c12"/>
<polygon points="247.4,680.3 252.9,685.8 247.4,691.3 241.9,685.8" fill="#8a3c12"/>
<polygon points="321.3,680.9 326.8,686.4 321.3,691.9 315.8,686.4" fill="#8a3c12"/>
<polygon points="377.6,690.2 383.1,695.7 377.6,701.2 372.1,695.7" fill="#8a3c12"/>
<polygon points="325.5,706.5 331.0,712.0 325.5,717.5 320.0,712.0" fill="#8a3c12"/>
<polygon points="335.7,715.6 341.2,721.1 335.7,726.6 330.2,721.1" fill="#8a3c12"/>
<polygon points="327.0,724.9 332.5,730.4 327.0,735.9 321.5,730.4" fill="#8a3c12"/>
<polygon points="340.5,724.3 346.0,729.8 340.5,735.3 335.0,729.8" fill="#8a3c12"/>
<polygon points="336.3,776.4 341.8,781.9 336.3,787.4 330.8,781.9" fill="#8a3c12"/>
<polygon points="442.2,666.0 447.7,671.5 442.2,677.0 436.7,671.5" fill="#8a3c12"/>
<polygon points="499.1,672.6 504.6,678.1 499.1,683.6 493.6,678.1" fill="#8a3c12"/>
<polygon points="433.5,681.9 439.0,687.4 433.5,692.9 428.0,687.4" fill="#8a3c12"/>
<polygon points="418.6,696.7 424.1,702.2 418.6,707.7 413.1,702.2" fill="#8a3c12"/>
<polygon points="518.7,692.1 524.2,697.6 518.7,703.1 513.2,697.6" fill="#8a3c12"/>
<polygon points="527.4,697.3 532.9,702.8 527.4,708.3 521.9,702.8" fill="#8a3c12"/>
<polygon points="555.0,711.4 560.5,716.9 555.0,722.4 549.5,716.9" fill="#8a3c12"/>
<polygon points="551.7,719.5 557.2,725.0 551.7,730.5 546.2,725.0" fill="#8a3c12"/>
<polygon points="595.9,713.1 601.4,718.6 595.9,724.1 590.4,718.6" fill="#8a3c12"/>
<polygon points="459.5,748.4 465.0,753.9 459.5,759.4 454.0,753.9" fill="#8a3c12"/>
<polygon points="599.2,648.5 604.7,654.0 599.2,659.5 593.7,654.0" fill="#8a3c12"/>
<polygon points="579.6,664.0 585.1,669.5 579.6,675.0 574.1,669.5" fill="#8a3c12"/>
<polygon points="599.3,670.1 604.8,675.6 599.3,681.1 593.8,675.6" fill="#8a3c12"/>
<polygon points="624.6,669.6 630.1,675.1 624.6,680.6 619.1,675.1" fill="#8a3c12"/>
<polygon points="603.2,687.7 608.7,693.2 603.2,698.7 597.7,693.2" fill="#8a3c12"/>
<polygon points="620.9,686.6 626.4,692.1 620.9,697.6 615.4,692.1" fill="#8a3c12"/>
<polygon points="489.8,726.9 495.3,732.4 489.8,737.9 484.3,732.4" fill="#8a3c12"/>
<polygon points="499.2,734.0 504.7,739.5 499.2,745.0 493.7,739.5" fill="#8a3c12"/>
<polygon points="527.0,735.7 532.5,741.2 527.0,746.7 521.5,741.2" fill="#8a3c12"/>
<polygon points="514.6,763.2 520.1,768.7 514.6,774.2 509.1,768.7" fill="#8a3c12"/>
<polygon points="229.6,122.3 235.1,127.8 229.6,133.3 224.1,127.8" fill="#808080"/>
<polygon points="235.4,156.6 240.9,162.1 235.4,167.6 229.9,162.1" fill="#808080"/>
<polygon points="287.5,76.6 293.0,82.1 287.5,87.6 282.0,82.1" fill="#808080"/>
<polygon points="294.3,73.1 299.8,78.6 294.3,84.1 288.8,78.6" fill="#808080"/>
<polygon points="309.3,70.4 314.8,75.9 309.3,81.4 303.8,75.9" fill="#808080"/>
<polygon points="352.1,97.8 357.6,103.3 352.1,108.8 346.6,103.3" fill="#808080"/>
<polygon points="115.5,260.7 121.0,266.2 115.5,271.7 110.0,266.2" fill="#808080"/>
<polygon points="286.5,222.5 292.0,228.0 286.5,233.5 281.0,228.0" fill="#808080"/>
<polygon points="419.0,202.8 424.5,208.3 419.0,213.8 413.5,208.3" fill="#808080"/>
<polygon points="109.7,598.4 115.2,603.9 109.7,609.4 104.2,603.9" fill="#808080"/>
<polygon points="380.1,722.4 385.6,727.9 380.1,733.4 374.6,727.9" fill="#808080"/>
<polygon points="385.5,726.6 391.0,732.1 385.5,737.6 380.0,732.1" fill="#808080"/>
<polygon points="317.4,759.0 322.9,764.5 317.4,770.0 311.9,764.5" fill="#808080"/>
<polygon points="362.7,751.7 368.2,757.2 362.7,762.7 357.2,757.2" fill="#808080"/>
<polygon points="562.7,134.8 568.2,146.4 557.2,146.4" fill="#fcbf0f"/>
<polygon points="278.8,288.0 284.3,299.6 273.3,299.6" fill="#fcbf0f"/>
<polygon points="614.4,211.3 619.9,222.9 608.9,222.9" fill="#fcbf0f"/>
<polygon points="375.8,701.1 381.3,712.7 370.3,712.7" fill="#fcbf0f"/>
<polygon points="314.5,742.6 320.0,754.2 309.0,754.2" fill="#fcbf0f"/>
<polygon points="610.9,684.8 616.4,696.4 605.4,696.4" fill="#fcbf0f"/>
<polygon points="626.7,691.0 632.2,702.6 621.2,702.6" fill="#fcbf0f"/>
<path d="M416.7 147.6H428.3M422.5 141.8V153.4" stroke="#7030a0" stroke-width="2.8"/>
<path d="M343.8 294.1H355.4M349.6 288.3V299.9" stroke="#7030a0" stroke-width="2.8"/>
<path d="M438.9 221.8H450.5M444.7 216.0V227.6" stroke="#7030a0" stroke-width="2.8"/>
<path d="M406.1 438.3H417.7M411.9 432.5V444.1" stroke="#7030a0" stroke-width="2.8"/>
<path d="M406.2 438.3H417.8M412.0 432.5V444.1" stroke="#7030a0" stroke-width="2.8"/>
<path d="M494.8 407.5H506.4M500.6 401.7V413.3" stroke="#7030a0" stroke-width="2.8"/>
<path d="M529.0 405.0H540.6M534.8 399.2V410.8" stroke="#7030a0" stroke-width="2.8"/>
<path d="M595.9 547.6H607.5M601.7 541.8V553.4" stroke="#7030a0" stroke-width="2.8"/>
<path d="M474.6 672.9H486.2M480.4 667.1V678.7" stroke="#7030a0" stroke-width="2.8"/>
<path d="M407.6 509.5H419.2M413.4 503.7V515.3" stroke="#7030a0" stroke-width="2.8"/>
<path d="M486.5 741.5H498.1M492.3 735.7V747.3" stroke="#7030a0" stroke-width="2.8"/>
<path d="M291.1 181.6L302.1 192.6M302.1 181.6L291.1 192.6" stroke="#c55f24" stroke-width="2.1"/>
<path d="M414.5 191.3L425.5 202.3M425.5 191.3L414.5 202.3" stroke="#c55f24" stroke-width="2.1"/>
<path d="M432.8 253.9L443.8 264.9M443.8 253.9L432.8 264.9" stroke="#c55f24" stroke-width="2.1"/>
<path d="M719.6 367.1L730.6 378.1M730.6 367.1L719.6 378.1" stroke="#c55f24" stroke-width="2.1"/>
<path d="M685.5 377.9L696.5 388.9M696.5 377.9L685.5 388.9" stroke="#c55f24" stroke-width="2.1"/>
<path d="M655.0 580.3L666.0 591.3M666.0 580.3L655.0 591.3" stroke="#c55f24" stroke-width="2.1"/>
<path d="M497.0 747.9L508.0 758.9M508.0 747.9L497.0 758.9" stroke="#c55f24" stroke-width="2.1"/>
<path d="M492.5 760.8L503.5 771.8M503.5 760.8L492.5 771.8" stroke="#c55f24" stroke-width="2.1"/>
<rect x="415.0" y="159.0" width="13.8" height="3.8" fill="#000000"/>
<rect x="475.5" y="353.1" width="13.8" height="3.8" fill="#000000"/>
<rect x="101.3" y="257.4" width="8.2" height="4" fill="#7030a0"/>
<rect x="592.1" y="687.8" width="8.2" height="4" fill="#7030a0"/>
<rect x="600.2" y="687.8" width="8.2" height="4" fill="#7030a0"/>
<path d="M311.9 735.4L322.9 745.4M322.9 735.4L311.9 745.4M317.4 734.4V746.4" stroke="#7b3410" stroke-width="2.1"/>
<circle cx="679.8" cy="554.0" r="5.7" fill="#2ea6e0"/>
<circle cx="575.1" cy="511.5" r="5.7" fill="#c49a2c"/>
<circle cx="680.4" cy="561.7" r="5.7" fill="#3f6f2c"/>
<circle cx="445.1" cy="355.5" r="5.7" fill="#ec1c24"/>
<circle cx="333.2" cy="685.8" r="5.7" fill="#ee9a5a"/>
<circle cx="83.3" cy="257.5" r="5.7" fill="#bfbfbf"/>
</svg>
<svg class="ov" width="1037" height="847" viewBox="0 0 1037 847">
<g font-family="'Liberation Serif', serif" font-weight="bold" font-size="23" fill="#595959"><text x="382.6" y="428.9" text-anchor="end">0.0</text><text x="382.6" y="391.0" text-anchor="end">0.1</text><text x="382.6" y="353.1" text-anchor="end">0.2</text><text x="382.6" y="315.2" text-anchor="end">0.3</text><text x="382.6" y="277.3" text-anchor="end">0.4</text><text x="382.6" y="239.5" text-anchor="end">0.5</text><text x="382.6" y="201.6" text-anchor="end">0.6</text><text x="382.6" y="163.7" text-anchor="end">0.7</text><text x="382.6" y="125.8" text-anchor="end">0.8</text><text x="382.6" y="87.9" text-anchor="end">0.9</text><text x="382.6" y="50.0" text-anchor="end">1.0</text></g>
<g font-family="'Liberation Serif', serif" font-size="23.3" fill="#595959"><polygon points="828.0,156.1 833.5,167.7 822.5,167.7" fill="#1f6db4"/><text x="838.5" y="169.0">Muscle</text><polygon points="828.0,193.7 833.5,199.2 828.0,204.7 822.5,199.2" fill="#8a3c12"/><text x="838.5" y="206.0">Liver</text><polygon points="828.0,230.7 833.5,236.2 828.0,241.7 822.5,236.2" fill="#808080"/><text x="838.5" y="243.0">Intraperitoneal fat</text><polygon points="828.0,267.1 833.5,278.7 822.5,278.7" fill="#fcbf0f"/><text x="838.5" y="280.0">Intestine</text><path d="M822.2 310.2H833.8M828.0 304.4V316.0" stroke="#7030a0" stroke-width="2.8"/><text x="838.5" y="317.0">Brain</text><path d="M822.5 341.7L833.5 352.7M833.5 341.7L822.5 352.7" stroke="#c55f24" stroke-width="2.1"/><text x="838.5" y="354.0">Eye</text><rect x="821.1" y="382.3" width="13.8" height="3.8" fill="#000000"/><text x="838.5" y="391.0">Heart</text><rect x="827.0" y="419.2" width="8.2" height="4" fill="#7030a0"/><text x="838.5" y="428.0">Skin</text><path d="M822.5 453.2L833.5 463.2M833.5 453.2L822.5 463.2M828.0 452.2V464.2" stroke="#7b3410" stroke-width="2.1"/><text x="838.5" y="465.0">Kidney</text><circle cx="828.0" cy="495.2" r="5.7" fill="#2ea6e0"/><text x="838.5" y="502.0">Belly flap</text><circle cx="828.0" cy="532.2" r="5.7" fill="#c49a2c"/><text x="838.5" y="539.0">Plasma</text><circle cx="828.0" cy="569.2" r="5.7" fill="#3f6f2c"/><text x="838.5" y="576.0">Head kidney</text><circle cx="828.0" cy="606.2" r="5.7" fill="#ec1c24"/><text x="838.5" y="613.0">Red blood cell</text><circle cx="828.0" cy="643.2" r="5.7" fill="#ee9a5a"/><text x="838.5" y="650.0">Spleen</text><circle cx="828.0" cy="680.2" r="5.7" fill="#bfbfbf"/><text x="838.5" y="687.0">Pyloric caeca</text></g>
</svg>
</body></html>
